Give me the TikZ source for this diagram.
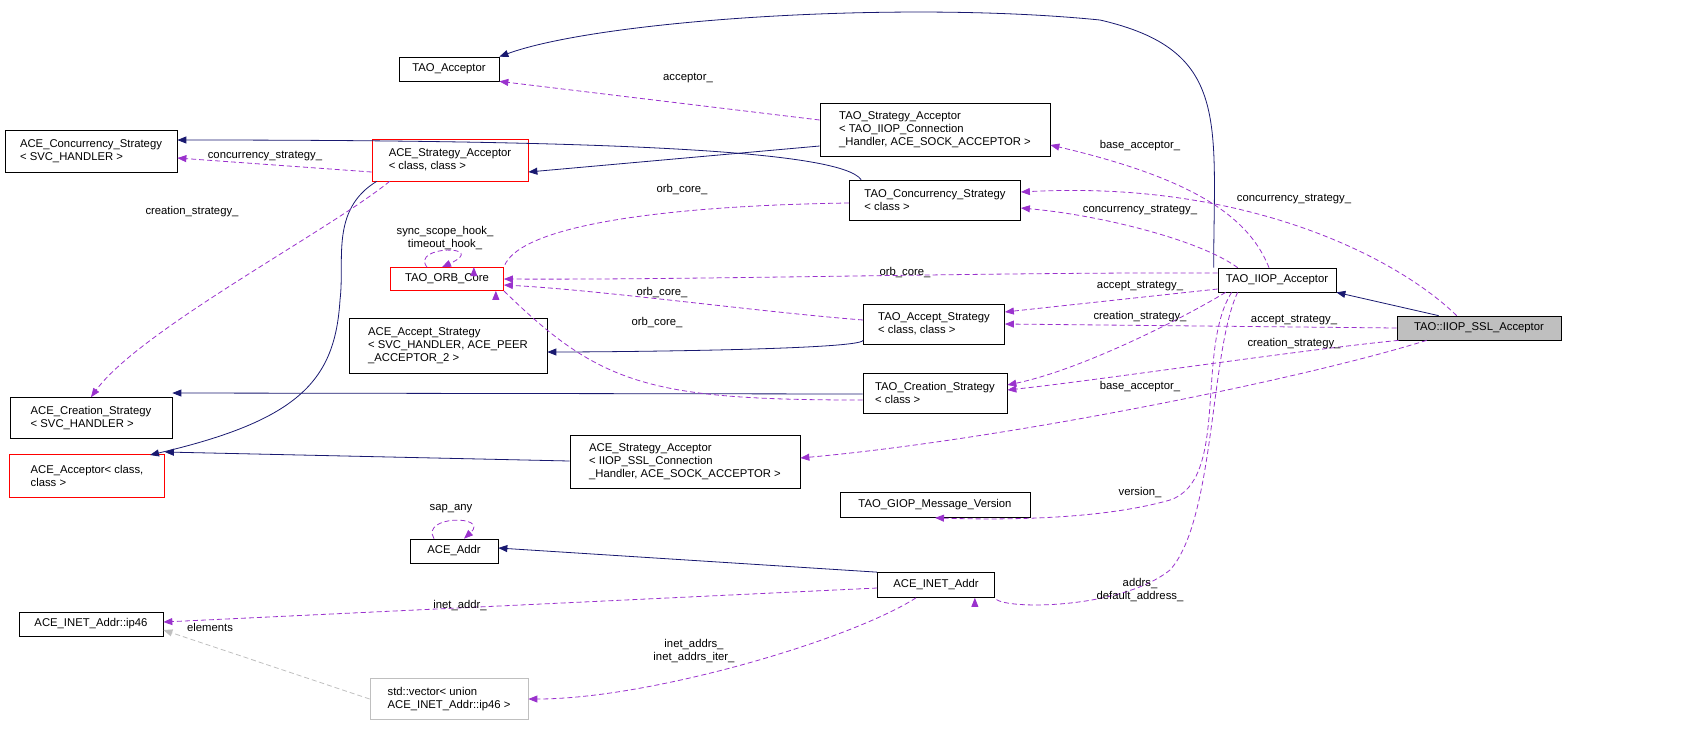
\documentclass[tikz,border=0pt]{standalone}
\usepackage{fontspec}
\setmainfont{Liberation Sans}
\usetikzlibrary{arrows.meta}
\definecolor{navy}{HTML}{191970}
\definecolor{usec}{HTML}{9A32CD}
\begin{document}
\begin{tikzpicture}[x=1pt,y=-1pt,
  cls/.style={draw=black,fill=white,align=left,font=\fontsize{11.3}{13}\selectfont,inner sep=2pt,line width=0.7pt},
  inh/.style={navy,line width=0.8pt,-{Triangle[length=9pt,width=7pt]}},
  use/.style={usec,line width=0.8pt,dashed,dash pattern=on 5pt off 3pt,-{Triangle[length=9pt,width=7pt]}},
  lbl/.style={font=\fontsize{11.3}{12.5}\selectfont,align=center,inner sep=1pt}]
\useasboundingbox (0,0) rectangle (1683,740);
% nodes
\node[cls,minimum width=100,minimum height=24] (tacc) at (449,69) {TAO\_Acceptor};
\node[cls,minimum width=172,minimum height=42] (acs) at (91,151) {ACE\_Concurrency\_Strategy\\< SVC\_HANDLER >};
\node[cls,minimum width=230,minimum height=53] (tsa) at (935,130) {TAO\_Strategy\_Acceptor\\< TAO\_IIOP\_Connection\\\_Handler, ACE\_SOCK\_ACCEPTOR >};
\node[cls,draw=red,minimum width=156,minimum height=42] (asa) at (450,160) {ACE\_Strategy\_Acceptor\\< class, class >};
\node[cls,minimum width=171,minimum height=40] (tcs) at (935,200) {TAO\_Concurrency\_Strategy\\< class >};
\node[cls,draw=red,minimum width=113,minimum height=23] (orb) at (447,279) {TAO\_ORB\_Core};
\node[cls,minimum width=118,minimum height=24] (iiop) at (1277,280) {TAO\_IIOP\_Acceptor};
\node[cls,fill={rgb,255:red,191;green,191;blue,191},minimum width=164,minimum height=24] (ssl) at (1479,328) {TAO::IIOP\_SSL\_Acceptor};
\node[cls,minimum width=141,minimum height=40] (tas) at (934,324) {TAO\_Accept\_Strategy\\< class, class >};
\node[cls,minimum width=198,minimum height=55] (aas) at (448,346) {ACE\_Accept\_Strategy\\< SVC\_HANDLER, ACE\_PEER\\\_ACCEPTOR\_2 >};
\node[cls,minimum width=162,minimum height=41] (acr) at (91,418) {ACE\_Creation\_Strategy\\< SVC\_HANDLER >};
\node[cls,minimum width=144,minimum height=40] (tcr) at (935,393) {TAO\_Creation\_Strategy\\< class >};
\node[cls,draw=red,minimum width=155,minimum height=43] (aacc) at (87,476) {ACE\_Acceptor< class,\\class >};
\node[cls,minimum width=230,minimum height=53] (asa2) at (685,462) {ACE\_Strategy\_Acceptor\\< IIOP\_SSL\_Connection\\\_Handler, ACE\_SOCK\_ACCEPTOR >};
\node[cls,minimum width=190,minimum height=25] (giop) at (935,505) {TAO\_GIOP\_Message\_Version};
\node[cls,minimum width=88,minimum height=24] (addr) at (454,551) {ACE\_Addr};
\node[cls,minimum width=117,minimum height=25] (inet) at (936,585) {ACE\_INET\_Addr};
\node[cls,minimum width=144,minimum height=24] (ip46) at (91,624) {ACE\_INET\_Addr::ip46};
\node[cls,draw={rgb,255:red,191;green,191;blue,191},minimum width=158,minimum height=41] (vec) at (449,699) {std::vector< union\\ ACE\_INET\_Addr::ip46 >};
% inheritance
\draw[inh] (iiop.north west)++(-4,0) .. controls (1214,120) and (1230,50) .. (1100,20) .. controls (900,0) and (600,20) .. (tacc.north east);
\draw[inh] (tsa.west|-0,146) -- (asa.east|-0,172);
\draw[inh] (tcs.north west)++(12,0) .. controls (840,150) and (600,140) .. (acs.east|-0,140);
\draw[inh] (asa.south west)++(5,0) .. controls (330,210) and (345,260) .. (340,300) .. controls (335,380) and (300,420) .. (150,455);
\draw[inh] (tas.south west)++(0,-4) .. controls (860,350) and (600,352) .. (aas.east|-0,352);
\draw[inh] (tcr.west|-0,394) -- (acr.east|-0,393);
\draw[inh] (asa2.west|-0,461) -- (aacc.east|-0,452);
\draw[inh] (inet.north west) -- (addr.east|-0,548);
\draw[inh] (ssl.north west)++(42,0) -- (iiop.south east);
% usage
\draw[use] (tsa.west|-0,120) -- (tacc.south east);
\node[lbl] at (688,78) {acceptor\_};
\draw[use] (asa.west|-0,172) -- (acs.east|-0,158);
\node[lbl] at (265,156) {concurrency\_strategy\_};
\draw[use] (asa.south west)++(18,0) .. controls (330,230) and (140,330) .. (acr.north);
\node[lbl] at (192,212) {creation\_strategy\_};
\draw[use] (tcs.west|-0,203) .. controls (700,205) and (520,220) .. (orb.north east)++(-30,0);
\node[lbl] at (682,190) {orb\_core\_};
\draw[use] (orb.north)++(-20,0) .. controls (410,245) and (490,245) .. ([xshift=-5]orb.north);
\node[lbl] at (445,238) {sync\_scope\_hook\_\\timeout\_hook\_};
\draw[use] (iiop.west|-0,273) .. controls (1000,272) and (700,280) .. (orb.east);
\node[lbl] at (905,273) {orb\_core\_};
\draw[use] (tas.west|-0,320) .. controls (760,312) and (600,290) .. (orb.east|-0,285);
\node[lbl] at (662,293) {orb\_core\_};
\draw[use] (tcr.west|-0,400) .. controls (650,400) and (600,385) .. (orb.south east)++(-8,0);
\node[lbl] at (657,323) {orb\_core\_};
\draw[use] (iiop.north)++(-8,0) .. controls (1250,220) and (1200,180) .. (tsa.east|-0,145);
\node[lbl] at (1140,146) {base\_acceptor\_};
\draw[use] (iiop.north west)++(20,0) .. controls (1200,240) and (1100,215) .. (tcs.east|-0,208);
\node[lbl] at (1140,210) {concurrency\_strategy\_};
\draw[use] (ssl.north west)++(60,0) .. controls (1400,260) and (1250,180) .. (tcs.east|-0,192);
\node[lbl] at (1294,199) {concurrency\_strategy\_};
\draw[use] (iiop.west|-0,289) -- (tas.east|-0,312);
\node[lbl] at (1140,286) {accept\_strategy\_};
\draw[use] (iiop.south west)++(8,0) .. controls (1180,320) and (1080,370) .. (tcr.east|-0,385);
\node[lbl] at (1140,317) {creation\_strategy\_};
\draw[use] (ssl.west) -- (tas.east|-0,324);
\node[lbl] at (1294,320) {accept\_strategy\_};
\draw[use] (ssl.south west)++(2,0) .. controls (1300,350) and (1100,380) .. (tcr.east|-0,390);
\node[lbl] at (1294,344) {creation\_strategy\_};
\draw[use] (ssl.south west)++(30,0) .. controls (1300,380) and (1000,440) .. (asa2.east|-0,458);
\node[lbl] at (1140,387) {base\_acceptor\_};
\draw[use] (iiop.south west)++(14,0) .. controls (1195,350) and (1230,480) .. (1170,500) .. controls (1100,520) and (1000,520) .. (giop.south);
\node[lbl] at (1140,493) {version\_};
\draw[use] (iiop.south west)++(20,0) .. controls (1210,350) and (1215,520) .. (1170,570) .. controls (1120,610) and (1000,610) .. (inet.south east)++(-20,0);
\node[lbl] at (1140,590) {addrs\_\\default\_address\_};
\draw[use] (inet.west|-0,588) -- (ip46.east|-0,622);
\node[lbl] at (460,606) {inet\_addr\_};
\draw[use] (inet.south)++(-20,0) .. controls (850,640) and (650,699) .. (vec.east);
\node[lbl] at (694,651) {inet\_addrs\_\\inet\_addrs\_iter\_};
\draw[use,draw={rgb,255:red,191;green,191;blue,191}] (vec.west) -- (ip46.east|-0,630);
\node[lbl] at (210,627) {elements};
\draw[use] (addr.north)++(-20,0) .. controls (420,515) and (490,515) .. ([xshift=10]addr.north);
\node[lbl] at (451,509) {sap\_any};
\end{tikzpicture}
\end{document}
